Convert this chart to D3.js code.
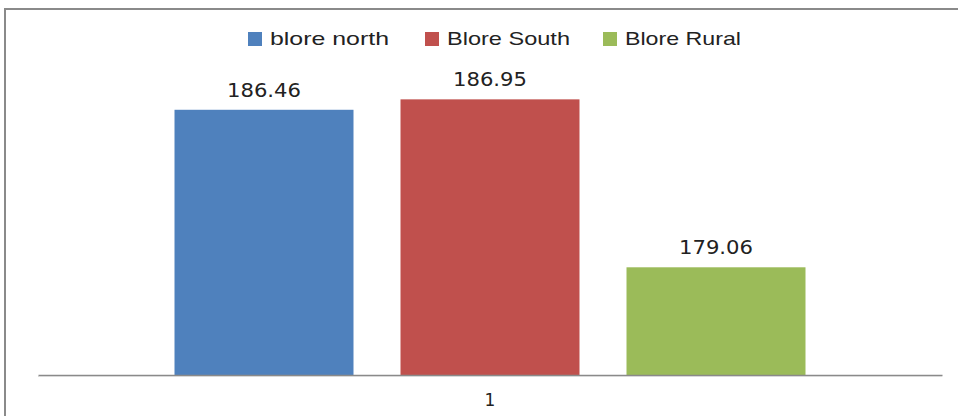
<!DOCTYPE html>
<html><head><meta charset="utf-8">
<script src="https://cdn.jsdelivr.net/npm/d3@7"></script>
<style>html,body{margin:0;padding:0;background:#fff;overflow:hidden}</style>
</head><body>
<svg id="chart" width="958" height="416"></svg>
<script>
const categories = ["1"];
const seriesNames = ["blore north", "Blore South", "Blore Rural"];
const seriesValues = [186.46, 186.95, 179.06];
const seriesColors = ["#4F81BD", "#C0504D", "#9BBB59"];
const valueDomain = [174, 188];

const svg = d3.select("#chart");
// outer frame
svg.append("rect").attr("x",5).attr("y",9).attr("width",1000).attr("height",500)
  .attr("fill","#fff").attr("stroke","#8a8a8a").attr("stroke-width",2);

const x0 = d3.scaleBand().domain(categories).range([38,942]).paddingInner(0.302).paddingOuter(0.151);
const x1 = d3.scaleBand().domain(seriesNames).range([0, x0.bandwidth()]).paddingInner(0.208).paddingOuter(0);
const y = d3.scaleLinear().domain(valueDomain).range([375,77]);

const g = svg.append("g");
categories.forEach(cat => {
  seriesNames.forEach((s,i) => {
    const bx = x0(cat) + x1(s);
    g.append("rect").attr("x",bx).attr("y",y(seriesValues[i]))
      .attr("width",x1.bandwidth()).attr("height",y(valueDomain[0]) - y(seriesValues[i]))
      .attr("fill",seriesColors[i]);
    g.append("text").attr("x",bx + x1.bandwidth()/2).attr("y",y(seriesValues[i]) - 13)
      .attr("text-anchor","middle").attr("font-family","DejaVu Sans")
      .attr("font-size",19).attr("fill","#222")
      .attr("textLength",74).attr("lengthAdjust","spacingAndGlyphs")
      .text(seriesValues[i].toFixed(2));
  });
});

// axis
const ax = svg.append("g").attr("transform","translate(0,375)")
  .call(d3.axisBottom(x0).tickSize(0).tickSizeOuter(0).tickPadding(19));
ax.select(".domain").attr("stroke","#8a8a8a").attr("stroke-width",1.5);
svg.append("line").attr("x1",38).attr("x2",942).attr("y1",376.5).attr("y2",376.5).attr("stroke","#d8d8d8").attr("stroke-width",1);
ax.selectAll("text").attr("font-family","DejaVu Sans").attr("font-size",17).attr("fill","#222");

// legend
const legendX = [248, 425, 603];
const legendW = [119, 123, 116];
const lg = svg.append("g");
seriesNames.forEach((s,i) => {
  lg.append("rect").attr("x",legendX[i]).attr("y",32).attr("width",14).attr("height",14).attr("fill",seriesColors[i]);
  lg.append("text").attr("x",legendX[i]+22).attr("y",45)
    .attr("font-family","Liberation Sans Narrow, Liberation Sans").attr("font-size",19).attr("fill","#222")
    .attr("textLength",legendW[i]).attr("lengthAdjust","spacingAndGlyphs").text(s);
});
</script>
</body></html>
